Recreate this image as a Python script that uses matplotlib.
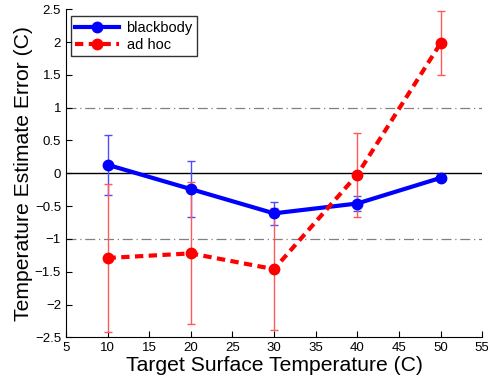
import matplotlib
matplotlib.use("Agg")
import matplotlib.pyplot as plt
import numpy as np

plt.rcParams['font.family'] = ['Liberation Sans', 'DejaVu Sans']

temps = [10, 20, 30, 40, 50]
blackbody = [0.13, -0.24, -0.61, -0.46, -0.07]
blackbody_err = [0.46, 0.43, 0.18, 0.12, 0.03]
adhoc = [-1.29, -1.22, -1.46, -0.02, 1.98]
adhoc_err = [1.13, 1.08, 0.93, 0.64, 0.49]
xticks = [5, 10, 15, 20, 25, 30, 35, 40, 45, 50, 55]
yticks = [-2.5, -2, -1.5, -1, -0.5, 0, 0.5, 1, 1.5, 2, 2.5]

fig = plt.figure(figsize=(4.88, 3.83), dpi=100)
ax = fig.add_axes([0.135, 0.119, 0.853, 0.857])

ax.axhline(0, color='black', lw=1.0, zorder=1)
ax.axhline(1, color='gray', lw=0.9, ls=(0, (8, 3, 1, 3)), zorder=1)
ax.axhline(-1, color='gray', lw=0.9, ls=(0, (8, 3, 1, 3)), zorder=1)

ax.errorbar(temps, blackbody, yerr=blackbody_err, fmt='none', ecolor=(0.3, 0.3, 1.0),
            elinewidth=1.0, capsize=3, capthick=1.0, zorder=2)
ax.errorbar(temps, adhoc, yerr=adhoc_err, fmt='none', ecolor=(1.0, 0.35, 0.35),
            elinewidth=1.0, capsize=3, capthick=1.0, zorder=2)
ax.plot(temps, blackbody, color='blue', lw=3, marker='o', ms=7.5, label='blackbody', zorder=3)
ax.plot(temps, adhoc, color='red', lw=3, ls=(0, (2, 1.3)), marker='o', ms=7.5, label='ad hoc', zorder=3)

ax.set_xlim(5, 55)
ax.set_ylim(-2.5, 2.5)
ax.set_xticks(xticks)
ax.set_yticks(yticks)
ax.set_xticklabels([str(t) for t in xticks])
ax.set_yticklabels([('\u2212' + ('%g' % abs(t))) if t < 0 else '%g' % t for t in yticks])
ax.tick_params(direction='in', labelsize=9.5, length=4)
ax.spines['top'].set_visible(False)
ax.spines['right'].set_visible(False)

ax.set_xlabel('Target Surface Temperature (C)', fontsize=15.2, labelpad=1)
ax.set_ylabel('Temperature Estimate Error (C)', fontsize=15.2, labelpad=1)

leg = ax.legend(loc='upper left', fontsize=10.5, frameon=True, fancybox=False,
                edgecolor='black', handlelength=3, borderpad=0.3, labelspacing=0.2,
                handletextpad=0.5, bbox_to_anchor=(-0.005, 1.0))
leg.get_frame().set_linewidth(1.0)

fig.savefig('out.png', dpi=100)
